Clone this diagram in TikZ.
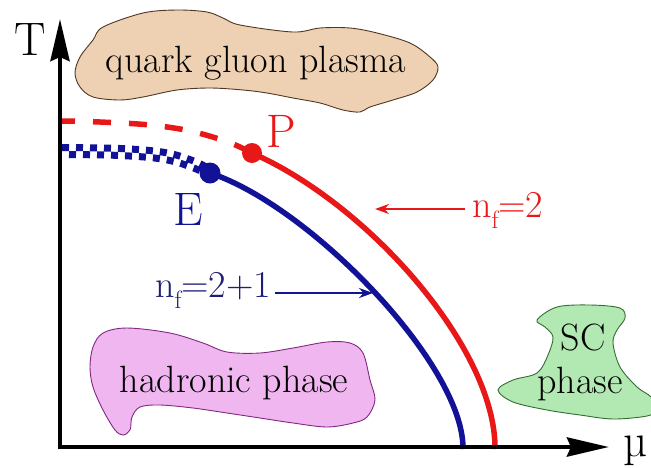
\documentclass[tikz,border=0pt]{standalone}
\usepackage{fontspec}
\usetikzlibrary{arrows.meta}
\definecolor{cred}{RGB}{232,24,24}
\definecolor{cblue}{RGB}{18,18,150}
\definecolor{ctext}{RGB}{30,30,120}
\definecolor{qgpfill}{RGB}{238,208,178}
\definecolor{qgpline}{RGB}{80,55,35}
\definecolor{hadfill}{RGB}{240,182,240}
\definecolor{hadline}{RGB}{130,40,130}
\definecolor{scfill}{RGB}{178,232,178}
\definecolor{scline}{RGB}{50,110,50}
\tikzset{
  blobline/.style={line width=0.9pt},
  lbl/.style={font=\fontsize{38}{38}\selectfont, inner sep=0pt, anchor=base},
  biglbl/.style={font=\fontsize{47}{47}\selectfont, inner sep=0pt, anchor=base},
  axisline/.style={line width=4.5pt, -{Stealth[length=42pt,width=19pt,inset=4pt]}},
  phaseline/.style={line width=5.5pt},
  dotnode/.style={circle, inner sep=0pt, minimum size=20pt},
  smallarrow/.style={line width=2.6pt, -{Stealth[length=14pt,width=10pt]}},
}
\newcommand{\subf}{\raisebox{-11pt}{\fontsize{25}{25}\selectfont f}}
\begin{document}
\begin{tikzpicture}[x=1pt,y=-1pt]
\useasboundingbox (0,0) rectangle (651,467);
\begin{scope}
\clip (0,0) rectangle (651,467);
% blobs
\filldraw[blobline, draw=qgpline, fill=qgpfill] plot[smooth cycle, tension=0.55] coordinates {
 (103,27) (143,13) (177,10) (207,12) (223,18) (240,25) (293,32) (320,28) (350,28)
 (377,33) (410,43) (430,57) (438,67) (433,80) (417,92) (393,100) (370,107) (360,112)
 (343,110) (320,103) (293,98) (267,93) (243,90) (210,88) (177,90) (143,97) (120,100)
 (93,97) (80,87) (75,73) (80,57) (93,40)};
\filldraw[blobline, draw=hadline, fill=hadfill] plot[smooth cycle, tension=0.55] coordinates {
 (103,333) (127,328) (170,333) (203,343) (227,352) (260,353) (293,348) (327,342)
 (350,343) (363,353) (370,380) (375,400) (367,417) (353,423) (327,427) (293,423)
 (260,418) (227,413) (193,408) (160,405) (140,407) (132,417) (130,430) (123,435)
 (115,430) (103,410) (93,387) (90,367) (93,347)};
\filldraw[blobline, draw=scline, fill=scfill] plot[smooth cycle, tension=0.55] coordinates {
 (537,320) (557,307) (590,305) (620,308) (625,318) (617,330) (613,343) (620,367)
 (637,387) (651,397) (656,410) (647,416) (613,419) (580,415) (547,410) (513,402)
 (498,390) (513,380) (537,373) (548,355) (553,337) (545,327)};
\end{scope}

% phase points
\node[dotnode, fill=cred] (P) at (252,153) {};
\node[dotnode, fill=cblue, minimum size=21pt] (E) at (210,173) {};

% red first-order line: dashed and solid
\draw[phaseline, cred, dash pattern=on 18pt off 18pt, dash phase=5pt]
  plot[smooth, tension=0.6] coordinates {(62,121) (100,122) (150,125) (190,131) (228,142) (252,153)};
\draw[phaseline, cred] (P.center) .. controls (370,205) and (496,350) .. (495,449);

% blue crossover (checkered) and solid line
\draw[line width=7pt, cblue, dash pattern=on 7pt off 7pt, transform canvas={yshift=3.5pt}]
  plot[smooth, tension=0.6] coordinates {(62,151) (120,152) (165,156) (195,165) (210,173)};
\draw[line width=7pt, cblue, dash pattern=on 7pt off 7pt, dash phase=7pt, transform canvas={yshift=-3.5pt}]
  plot[smooth, tension=0.6] coordinates {(62,151) (120,152) (165,156) (195,165) (210,173)};
\draw[phaseline, cblue] (E.center) .. controls (310,206) and (464,365) .. (463,449);

% axes
\coordinate (O) at (60,447);
\coordinate (Ttip) at (60,19);
\coordinate (Mtip) at (609,447);
\draw[axisline] (60,449.25) -- (Ttip);
\draw[axisline] (57.75,447) -- (Mtip);

% labels
\node[biglbl] (Tl) at (30,55) {T};
\node[biglbl] (mul) at (636,456) {µ};
\node[biglbl, text=cred] (Pl) at (281,147) {P};
\node[biglbl, text=cblue] (El) at (188,225) {E};
\node[lbl] (qgp) at (256,72) {quark gluon plasma};
\node[lbl] (had) at (234,392) {hadronic phase};
\node[lbl] (sc) at (583,350) {SC};
\node[lbl] (scp) at (580,393) {phase};

% flavour labels with arrows
\node[lbl, anchor=base west, text=cred] (nf2) at (472,217) {n\subf=2};
\node[lbl, anchor=base west, text=ctext] (nf21) at (155,297) {n\subf=2+1};
\coordinate (r1) at (465,209);
\coordinate (r2) at (375,209);
\draw[smallarrow, cred] (r1) -- (r2);
\coordinate (b1) at (275,293);
\coordinate (b2) at (373,293);
\draw[smallarrow, cblue] (b1) -- (b2);
\end{tikzpicture}
\end{document}
